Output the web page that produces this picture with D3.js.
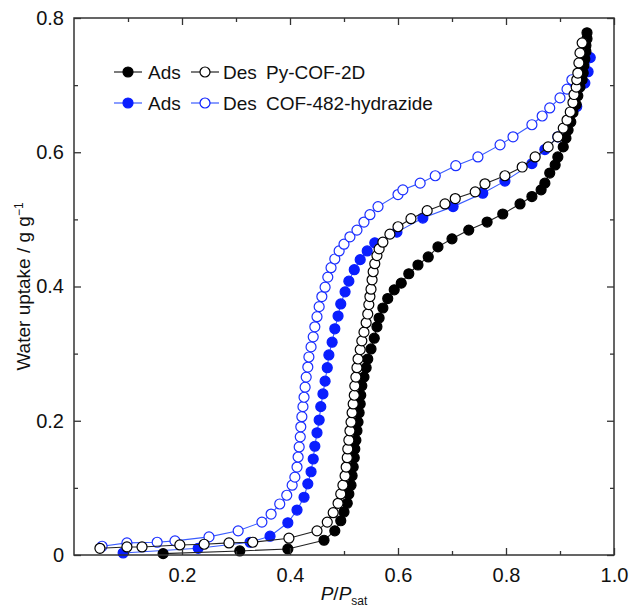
<!DOCTYPE html>
<html><head><meta charset="utf-8">
<script src="https://cdn.jsdelivr.net/npm/d3@7"></script>
<style>body{margin:0;background:#fff}svg{display:block}text{font-family:Arial,"Liberation Sans",sans-serif}</style>
</head><body>
<svg id="chart" width="630" height="608"></svg>
<script>
// Py-COF-2D adsorption [P/Psat, uptake]
const pyAdsX = [0.165,0.307,0.396,0.463,0.483,0.494,0.500,0.506,0.509,0.513,0.515,0.517,0.519,0.520,0.522,0.524,0.526,0.528,0.530,0.531,0.533,0.537,0.541,0.544,0.550,0.556,0.561,0.565,0.572,0.581,0.593,0.606,0.620,0.637,0.656,0.674,0.700,0.731,0.765,0.794,0.826,0.848,0.865,0.872,0.881,0.891,0.896,0.906,0.911,0.915,0.920,0.924,0.930,0.933,0.937,0.941,0.943,0.944,0.946,0.948,0.948,0.950,0.950];
const pyAdsY = [0.002,0.006,0.009,0.022,0.036,0.051,0.064,0.077,0.091,0.104,0.118,0.131,0.145,0.158,0.171,0.185,0.198,0.212,0.225,0.238,0.252,0.265,0.279,0.292,0.307,0.323,0.340,0.353,0.368,0.382,0.395,0.405,0.419,0.432,0.444,0.459,0.471,0.484,0.496,0.508,0.523,0.534,0.544,0.554,0.569,0.581,0.593,0.608,0.621,0.633,0.645,0.659,0.671,0.684,0.697,0.708,0.718,0.729,0.739,0.750,0.759,0.769,0.778];
// Py-COF-2D desorption
const pyDesX = [0.048,0.098,0.126,0.196,0.241,0.287,0.331,0.398,0.450,0.469,0.480,0.489,0.494,0.498,0.502,0.504,0.506,0.507,0.509,0.511,0.513,0.515,0.517,0.519,0.520,0.522,0.524,0.526,0.530,0.533,0.537,0.541,0.544,0.546,0.548,0.550,0.552,0.554,0.557,0.561,0.565,0.572,0.585,0.600,0.624,0.654,0.687,0.706,0.743,0.761,0.798,0.830,0.854,0.878,0.896,0.906,0.913,0.919,0.924,0.926,0.930,0.931,0.933,0.935,0.937,0.941];
const pyDesY = [0.010,0.012,0.012,0.015,0.016,0.018,0.019,0.025,0.036,0.049,0.063,0.077,0.091,0.104,0.118,0.131,0.145,0.158,0.171,0.185,0.198,0.212,0.225,0.238,0.252,0.265,0.279,0.292,0.306,0.319,0.332,0.346,0.359,0.373,0.385,0.396,0.410,0.422,0.434,0.446,0.456,0.466,0.478,0.489,0.501,0.513,0.523,0.531,0.541,0.553,0.565,0.578,0.593,0.608,0.623,0.636,0.648,0.660,0.674,0.686,0.697,0.708,0.718,0.733,0.748,0.763];
// COF-482-hydrazide adsorption
const hzAdsX = [0.091,0.230,0.326,0.363,0.396,0.413,0.426,0.433,0.439,0.443,0.446,0.450,0.454,0.457,0.461,0.465,0.469,0.472,0.478,0.483,0.489,0.494,0.502,0.509,0.519,0.530,0.543,0.557,0.598,0.646,0.702,0.757,0.798,0.848,0.872,0.896,0.915,0.931,0.946,0.952,0.956];
const hzAdsY = [0.003,0.010,0.019,0.028,0.048,0.067,0.086,0.106,0.124,0.143,0.162,0.182,0.201,0.221,0.240,0.259,0.279,0.298,0.317,0.337,0.356,0.374,0.392,0.408,0.425,0.440,0.453,0.465,0.481,0.502,0.519,0.539,0.557,0.583,0.604,0.623,0.644,0.668,0.703,0.720,0.741];
// COF-482-hydrazide desorption
const hzDesX = [0.052,0.098,0.154,0.187,0.250,0.304,0.348,0.365,0.381,0.394,0.404,0.409,0.413,0.415,0.417,0.419,0.420,0.422,0.424,0.426,0.428,0.430,0.433,0.435,0.439,0.443,0.446,0.450,0.454,0.459,0.465,0.470,0.476,0.483,0.491,0.500,0.511,0.524,0.537,0.548,0.563,0.600,0.609,0.641,0.669,0.707,0.748,0.789,0.813,0.848,0.867,0.881,0.900,0.913,0.922];
const hzDesY = [0.013,0.018,0.019,0.021,0.027,0.036,0.049,0.061,0.076,0.089,0.104,0.116,0.131,0.146,0.161,0.176,0.191,0.206,0.221,0.235,0.250,0.265,0.280,0.295,0.310,0.325,0.340,0.355,0.370,0.385,0.399,0.414,0.428,0.441,0.453,0.463,0.474,0.484,0.496,0.507,0.519,0.537,0.544,0.554,0.565,0.580,0.593,0.611,0.623,0.641,0.654,0.666,0.681,0.694,0.708];

const xTicks = [0.2,0.4,0.6,0.8,1.0];
const yTicks = [0,0.2,0.4,0.6,0.8];
const legendRows = [
  {name:"Py-COF-2D", ads:"Ads", des:"Des"},
  {name:"COF-482-hydrazide", ads:"Ads", des:"Des"}
];

const svg = d3.select("#chart");
const L = 74, R = 614, T = 18, B = 555;
const x = d3.scaleLinear().domain([0,1]).range([L,R]);
const y = d3.scaleLinear().domain([0,0.8]).range([B,T]);
const MR = 5;

const series = [
  {xs:hzAdsX, ys:hzAdsY, line:"#3a5cff", stroke:"#0a1eff", fill:"#0a1eff"},
  {xs:hzDesX, ys:hzDesY, line:"#3a5cff", stroke:"#1a2eff", fill:"#fff"},
  {xs:pyAdsX, ys:pyAdsY, line:"#222", stroke:"#000", fill:"#000"},
  {xs:pyDesX, ys:pyDesY, line:"#222", stroke:"#000", fill:"#fff"}
];
const lineGen = d3.line().x(d=>x(d[0])).y(d=>y(d[1]));
series.forEach(s=>{
  const pts = s.xs.map((v,i)=>[v,s.ys[i]]);
  const g = svg.append("g");
  g.append("path").attr("d",lineGen(pts)).attr("fill","none").attr("stroke",s.line).attr("stroke-width",1.1);
  g.selectAll("circle").data(pts).join("circle")
    .attr("cx",d=>x(d[0])).attr("cy",d=>y(d[1])).attr("r",MR)
    .attr("fill",s.fill).attr("stroke",s.stroke).attr("stroke-width",1.2);
});

// axes
const axCol = "#333";
const xMinor = d3.range(1,10).map(i=>i/10).filter(v=>Math.round(v*10)%2===1);
const yMinor = d3.range(1,8).map(i=>i/10).filter(v=>Math.round(v*10)%2===1);
function tickAxis(axis, ticks, size){ return axis.tickValues(ticks).tickSize(size).tickFormat(""); }
const gB = svg.append("g").attr("transform",`translate(0,${B})`);
gB.append("g").call(tickAxis(d3.axisTop(x),xMinor,4));
const gBm = gB.append("g").call(d3.axisTop(x).tickValues(xTicks).tickSize(7).tickFormat(d3.format(".1f")));
gBm.selectAll(".tick text").attr("y",13).attr("dy","0.71em");
const gT = svg.append("g").attr("transform",`translate(0,${T})`);
gT.append("g").call(tickAxis(d3.axisBottom(x),xMinor,4));
gT.append("g").call(tickAxis(d3.axisBottom(x),xTicks,7));
const gL = svg.append("g").attr("transform",`translate(${L},0)`);
gL.append("g").call(tickAxis(d3.axisRight(y),yMinor,4));
const gLm = gL.append("g").call(d3.axisRight(y).tickValues(yTicks).tickSize(7).tickFormat(d=>d===0?"0":d3.format(".1f")(d)));
gLm.selectAll(".tick text").attr("x",-10).attr("text-anchor","end");
const gR = svg.append("g").attr("transform",`translate(${R},0)`);
gR.append("g").call(tickAxis(d3.axisLeft(y),yMinor,4));
gR.append("g").call(tickAxis(d3.axisLeft(y),yTicks,7));
svg.selectAll(".domain").remove();
svg.selectAll(".tick line").attr("stroke",axCol).attr("stroke-width",1.3);
svg.selectAll(".tick text").attr("fill","#111").style("font-size","20px");
svg.append("rect").attr("x",L).attr("y",T).attr("width",R-L).attr("height",B-T)
  .attr("fill","none").attr("stroke",axCol).attr("stroke-width",1.5);

// axis titles
const xt = svg.append("text").attr("x",(L+R)/2).attr("y",600).attr("text-anchor","middle").style("font-size","19px").attr("fill","#111");
xt.append("tspan").attr("font-style","italic").text("P");
xt.append("tspan").text("/");
xt.append("tspan").attr("font-style","italic").text("P");
xt.append("tspan").attr("dy",5).style("font-size","12px").text("sat");
const yt = svg.append("text").attr("transform",`translate(30,${(T+B)/2}) rotate(-90)`).attr("text-anchor","middle").style("font-size","19px").attr("fill","#111");
yt.append("tspan").text("Water uptake / g g");
yt.append("tspan").attr("dy",-7).style("font-size","12px").text("−1");

// legend
const legCols = [{c:"#000", lc:"#222"},{c:"#0a1eff", lc:"#3a5cff"}];
legendRows.forEach((r,i)=>{
  const yy = 72 + i*31;
  const c = legCols[i];
  const g = svg.append("g");
  g.append("line").attr("x1",114).attr("x2",142).attr("y1",yy).attr("y2",yy).attr("stroke",c.lc).attr("stroke-width",1.2);
  g.append("circle").attr("cx",128).attr("cy",yy).attr("r",MR).attr("fill",c.c).attr("stroke",c.c).attr("stroke-width",1.2);
  g.append("text").attr("x",148).attr("y",yy+7).style("font-size","19px").attr("fill","#111").text(r.ads);
  g.append("line").attr("x1",191).attr("x2",219).attr("y1",yy).attr("y2",yy).attr("stroke",c.lc).attr("stroke-width",1.2);
  g.append("circle").attr("cx",205).attr("cy",yy).attr("r",MR).attr("fill","#fff").attr("stroke",c.c).attr("stroke-width",1.2);
  g.append("text").attr("x",223).attr("y",yy+7).style("font-size","19px").attr("fill","#111").text(r.des);
  g.append("text").attr("x",266).attr("y",yy+7).style("font-size","19px").attr("fill","#111").text(r.name);
});
</script>
</body></html>
